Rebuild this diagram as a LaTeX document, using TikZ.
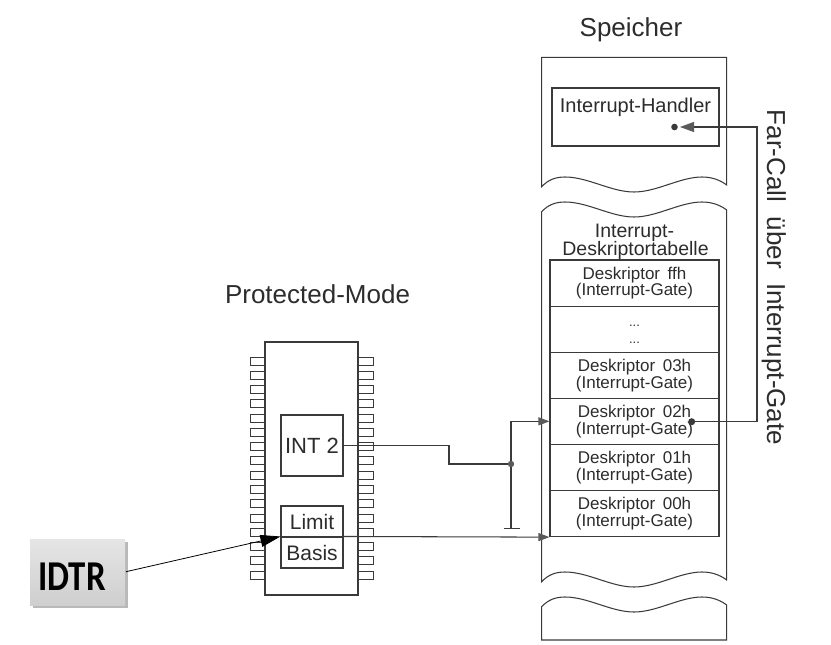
\documentclass[tikz,border=0pt]{standalone}
\usepackage{fontspec}
\setmainfont{Liberation Sans}
\newfontfamily\idtrfont{Carlito}
\usetikzlibrary{arrows.meta}
\definecolor{lc}{HTML}{3A3A3A}
\definecolor{tc}{HTML}{2C2C2C}
\definecolor{ac}{HTML}{5A5A5A}
\tikzset{
  ln/.style={draw=lc, line width=1.05pt},
  box/.style={draw=lc, line width=1.05pt, inner sep=0pt},
  lab/.style={text=tc, inner sep=0pt, font=\fontsize{26}{30}\selectfont},
  desc/.style={box, minimum width=169pt, minimum height=46.1pt, align=center, text=tc,
    font=\fontsize{17}{14.5}\selectfont},
  garrow/.style={ln, -{Triangle[length=11pt,width=8pt,color=ac]}},
}
\begin{document}
\begin{tikzpicture}[x=1pt,y=-1pt]
\useasboundingbox (0,0) rectangle (831,645);

% ---------- memory column ----------
% section 1
\draw[ln] (541.7,57.3) -- (726.7,57.3) -- (726.7,185)
  .. controls (720,180) and (712,177) .. (702,177)
  .. controls (680,177) and (657,192) .. (634,192)
  .. controls (611,192) and (588,177) .. (565,177)
  .. controls (555,177) and (548,180) .. (541.7,186.7) -- cycle;
% section 2
\draw[ln] (541.7,211.7)
  .. controls (548,205) and (555,202) .. (565,202)
  .. controls (588,202) and (611,217) .. (634,217)
  .. controls (657,217) and (680,202) .. (702,202)
  .. controls (712,202) and (720,205) .. (726.7,210)
  -- (726.7,580)
  .. controls (720,575) and (712,572) .. (702,572)
  .. controls (680,572) and (657,587) .. (634,587)
  .. controls (611,587) and (588,572) .. (565,572)
  .. controls (555,572) and (548,575) .. (541.7,581.7) -- cycle;
% section 3
\draw[ln] (541.7,640) -- (541.7,606.7)
  .. controls (548,600) and (555,597) .. (565,597)
  .. controls (588,597) and (611,612) .. (634,612)
  .. controls (657,612) and (680,597) .. (702,597)
  .. controls (712,597) and (720,600) .. (726.7,605)
  -- (726.7,640) -- cycle;

\node[lab, anchor=base] (speicher) at (631,36.7) {Speicher};

\node[box, minimum width=167pt, minimum height=58pt] (handler) at (635.5,117) {};
\node[text=tc, inner sep=0pt, anchor=base, font=\fontsize{20}{24}\selectfont] (handlertext) at (635.5,112) {Interrupt-Handler};

\node[text=tc, inner sep=0pt, anchor=base, font=\fontsize{19.5}{24}\selectfont] (idt1) at (634.5,237) {Interrupt-};
\node[text=tc, inner sep=0pt, anchor=base, font=\fontsize{19.5}{24}\selectfont] (idt2) at (635.5,255) {Deskriptortabelle};

\node[desc] (rff) at (634.5,283.05) {Deskriptor\ \,ffh\\(Interrupt-Gate)};
\node[desc] (rdots) at (634.5,329.15) {};
\node[text=tc, inner sep=0pt, anchor=base, font=\fontsize{13}{15}\selectfont] (dots1) at (634.5,326.5) {...};
\node[text=tc, inner sep=0pt, anchor=base, font=\fontsize{13}{15}\selectfont] (dots2) at (634.5,343) {...};
\node[desc] (r03) at (634.5,375.25) {Deskriptor\ \,03h\\(Interrupt-Gate)};
\node[desc] (r02) at (634.5,421.35) {Deskriptor\ \,02h\\(Interrupt-Gate)};
\node[desc] (r01) at (634.5,467.45) {Deskriptor\ \,01h\\(Interrupt-Gate)};
\node[desc] (r00) at (634.5,513.55) {Deskriptor\ \,00h\\(Interrupt-Gate)};

\node[lab, anchor=base, rotate=-90] (farcall) at (767,277.5) {Far-Call\ \ über\ \ Interrupt-Gate};

% far call connector
\coordinate (d02) at (691.7,421.7);
\coordinate (fc1) at (757,421.7);
\coordinate (fc2) at (757,127);
\coordinate (htip) at (680,127);
\draw[ln, -{Triangle[length=14pt,width=10pt,color=ac]}] (d02) -- (fc1) -- (fc2) -- (htip);
\fill[lc] (d02) circle (3.5pt);
\fill[lc] (674.5,127) circle (3.3pt);

% ---------- chip ----------
\node[lab, anchor=base] (pm) at (317.5,303) {Protected-Mode};
\node[box, minimum width=93pt, minimum height=253pt] (chip) at (311.5,468.5) {};
\foreach \k in {0,...,15}{
  \pgfmathsetmacro\py{361+14.27*\k}
  \draw[ln, line width=0.9pt] (265,{\py-4}) -- (250,{\py-4}) -- (250,{\py+4}) -- (265,{\py+4});
  \draw[ln, line width=0.9pt] (358,{\py-4}) -- (373,{\py-4}) -- (373,{\py+4}) -- (358,{\py+4});
}
\node[box, fill=white, minimum width=62pt, minimum height=61pt, text=tc, font=\fontsize{22}{26}\selectfont] (int2) at (312,445.5) {INT 2};
\node[box, fill=white, minimum width=62pt, minimum height=31pt, text=tc, font=\fontsize{21}{25}\selectfont] (limit) at (312,521.5) {Limit};
\node[box, fill=white, minimum width=62pt, minimum height=31pt, text=tc, font=\fontsize{21}{25}\selectfont] (basis) at (312,552.5) {Basis};

% INT 2 connector
\coordinate (b1) at (449,445.5);
\coordinate (b2) at (449,464);
\coordinate (jn) at (511,464);
\coordinate (jtop) at (511,421.35);
\coordinate (jbot) at (511,528.7);
\draw[ln] (int2.east) -- (b1) -- (b2) -- (jn);
\draw[ln] (jbot) -- (jtop);
\draw[garrow] (jtop) -- (r02.west);
\draw[ln] (503.6,528.7) -- (519.6,528.7);
\fill[ac] (jn) circle (3.2pt);

% Basis connector
\draw[garrow] (basis.north east) -- (r00.south west);

% ---------- IDTR ----------
\fill[gray!55] (33,542) rectangle (128,608);
\shade[top color=gray!20, bottom color=gray!38] (30,539) rectangle (125,605);
\node[inner sep=0pt, text=black, anchor=base, xscale=0.82, font=\idtrfont\bfseries\fontsize{42.5}{46}\selectfont] (idtr) at (72,590) {IDTR};
\coordinate (idtre) at (126,571.7);
\draw[black, line width=0.8pt, -{Triangle[length=20pt,width=12pt]}] (idtre) -- (basis.north west);
\end{tikzpicture}
\end{document}
